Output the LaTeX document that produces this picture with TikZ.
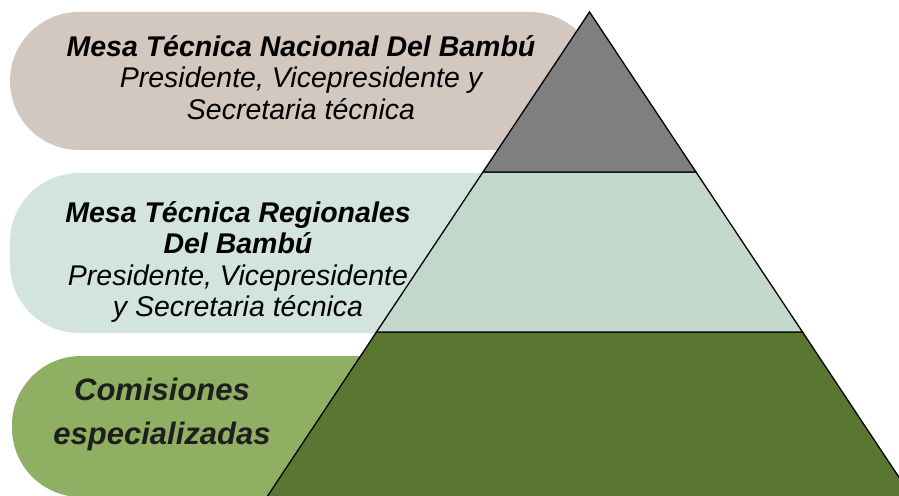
\documentclass[tikz,border=0pt]{standalone}
\usepackage{fontspec}
\setmainfont{Liberation Sans}
\definecolor{pillTop}{RGB}{211,200,191}
\definecolor{pillMid}{RGB}{210,227,224}
\definecolor{pillLow}{RGB}{143,175,99}
\definecolor{triTop}{RGB}{127,127,127}
\definecolor{triMid}{RGB}{195,216,205}
\definecolor{triLow}{RGB}{90,119,50}
\definecolor{txtLow}{RGB}{30,30,30}
\tikzset{
  pill/.style={rounded corners=69pt},
  band/.style={draw=black, line width=1.3pt, line join=miter},
  label/.style={inner sep=0pt, align=center, font=\fontsize{28.5}{31.5}\selectfont},
  lowlabel/.style={inner sep=0pt, align=center, text=txtLow, font=\fontsize{31}{44}\selectfont\bfseries\itshape}
}
\begin{document}
\begin{tikzpicture}[x=1pt,y=-1pt]
\useasboundingbox (0,0) rectangle (899,495);
\clip (0,0) rectangle (899,495);
% pills
\fill[pillTop, pill] (10,12) rectangle (599,150);
\fill[pillMid, pill] (10,173) rectangle (599,333);
\fill[pillLow, pill] (12,356) rectangle (599,497);
% pyramid
\coordinate (apex) at (589.5,12);
\coordinate (l1) at (483,172);
\coordinate (r1) at (696,172);
\coordinate (l2) at (376.5,332);
\coordinate (r2) at (802.5,332);
\coordinate (l3) at (245,530);
\coordinate (r3) at (934,530);
\filldraw[band, fill=triLow] (l2) -- (r2) -- (r3) -- (l3) -- cycle;
\filldraw[band, fill=triMid] (l1) -- (r1) -- (r2) -- (l2) -- cycle;
\filldraw[band, fill=triTop] (apex) -- (r1) -- (l1) -- cycle;
% texts
\node[label] (top) at (301,77.5) {{\bfseries\itshape Mesa Técnica Nacional Del Bambú}\\ \itshape Presidente, Vicepresidente y\\ \itshape Secretaria técnica};
\node[label] (mid) at (238,262) {{\bfseries\itshape Mesa Técnica Regionales}\\ {\bfseries\itshape Del Bambú}\\ \itshape Presidente, Vicepresidente\\ \itshape y Secretaria técnica};
\node[lowlabel] (low) at (162,414) {Comisiones\\ especializadas};
\end{tikzpicture}
\end{document}
